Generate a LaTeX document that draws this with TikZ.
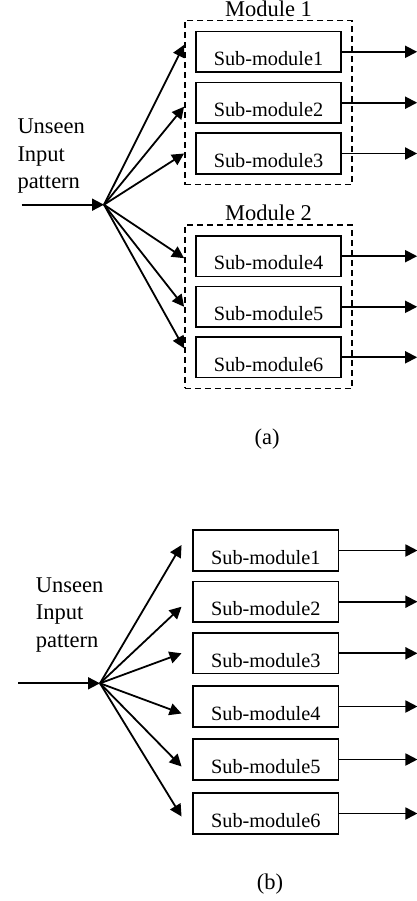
\documentclass[tikz,border=0pt]{standalone}
\usepackage{fontspec}
\setmainfont{Liberation Serif}
\usetikzlibrary{positioning,arrows.meta,calc,fit}

\begin{document}
\begin{tikzpicture}[x=1pt,y=-1pt,>={Triangle[length=12pt,width=12pt]},
  every node/.style={font=\fontsize{22.5}{27.5}\selectfont},
  subbox/.style={draw,line width=1.8pt,minimum width=145.5pt,inner sep=0pt,
    text height=34pt,text depth=6.5pt,font=\fontsize{20.3}{24}\selectfont},
  modbox/.style={draw,dash pattern=on 6pt off 4pt,line width=1.5pt,inner sep=10pt},
  link/.style={->,line width=1.8pt}]
  \useasboundingbox (0,0) rectangle (417,901);
  % (a) sub-modules grouped in two modules
  \node[subbox] (sa1) at (268.5,51.8) {Sub-module1};
  \node[subbox] (sa2) at (268.5,102.7) {Sub-module2};
  \node[subbox] (sa3) at (268.5,153.5) {Sub-module3};
  \node[subbox] (sa4) at (268.5,256.2) {Sub-module4};
  \node[subbox] (sa5) at (268.5,306.8) {Sub-module5};
  \node[subbox] (sa6) at (268.5,357.3) {Sub-module6};
  \node[modbox,fit=(sa1)(sa3)] (m1) {};
  \node[modbox,fit=(sa4)(sa6)] (m2) {};
  \node[anchor=base] (m1lbl) at ($(m1.north)+(0,-3.5)$) {Module 1};
  \node[anchor=base] (m2lbl) at ($(m2.north)+(0,-3.5)$) {Module 2};
  \node[anchor=west,align=left,inner sep=0pt] (inpa) at (17.3,156.5) {Unseen\\Input\\pattern};
  \coordinate (ina) at (21.7,204.7);
  \coordinate (fa) at (104,204.7);
  \draw[link] (ina) -- (fa);
  \foreach \i/\dy in {1/-7,2/4,3/0,4/2,5/0,6/-9}
    \draw[link] (fa) -- ($(sa\i.west -| m1.west)+(0,\dy)$);
  \foreach \i in {1,...,6}
    \draw[link] (sa\i.east) -- ++(75,0);
  \node (capa) at (267,439) {(a)};
  % (b) six separate sub-modules
  \node[subbox] (sb1) at (265.8,550.5) {Sub-module1};
  \node[subbox] (sb2) at (265.8,601.7) {Sub-module2};
  \node[subbox] (sb3) at (265.8,653.3) {Sub-module3};
  \node[subbox] (sb4) at (265.8,706.5) {Sub-module4};
  \node[subbox] (sb5) at (265.8,759.5) {Sub-module5};
  \node[subbox] (sb6) at (265.8,813.5) {Sub-module6};
  \node[anchor=west,align=left,inner sep=0pt] (inpb) at (35.7,614.7) {Unseen\\Input\\pattern};
  \coordinate (inb) at (18.3,683.3);
  \coordinate (fb) at (100,683.3);
  \draw[link] (inb) -- (fb);
  \foreach \i/\dy in {1/-5.5,2/5,3/0,4/7,5/7,6/3}
    \draw[link] (fb) -- ($(sb\i.west)+(-10.6,\dy)$);
  \foreach \i in {1,...,6}
    \draw[link] (sb\i.east) -- ++(78,0);
  \node (capb) at (270,884) {(b)};
\end{tikzpicture}
\end{document}
